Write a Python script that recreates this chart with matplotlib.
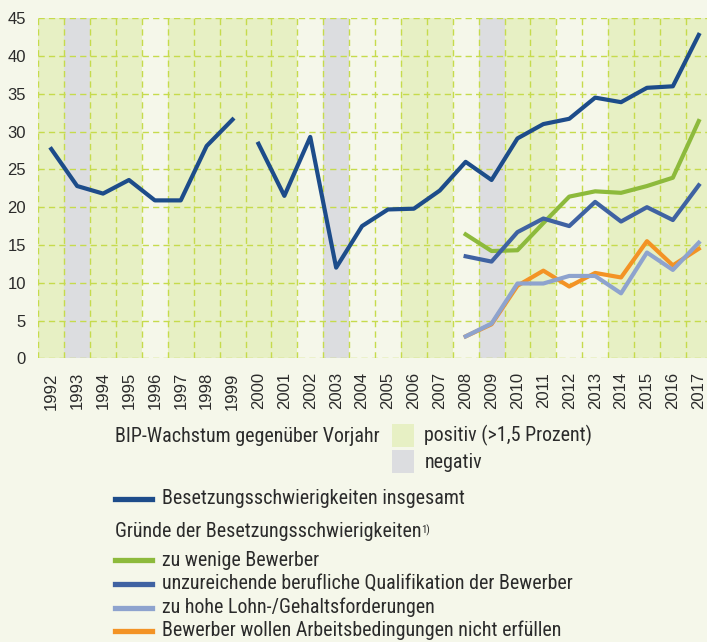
import numpy as np
import matplotlib
matplotlib.use("Agg")
import matplotlib.pyplot as plt
import matplotlib.patches as mpatches
from matplotlib.lines import Line2D
from matplotlib import font_manager

# ── Daten ─────────────────────────────────────────────────────────────────
YEARS = list(range(1992, 2018))
# BIP-Wachstum: g = positiv (>1,5 %), n = negativ, - = dazwischen
BIP = ["g", "n", "g", "g", "-", "g", "g", "g", "g", "g", "-", "n", "-",
       "-", "g", "g", "-", "n", "g", "g", "-", "-", "g", "g", "g", "g"]

# Besetzungsschwierigkeiten insgesamt (Lücke zwischen 1999 und 2000)
INS_1 = [27.7, 22.8, 21.8, 23.6, 20.9, 20.9, 28.1, 31.6]            # 1992–1999
INS_2 = [28.4, 21.5, 29.3, 12.0, 17.5, 19.7, 19.8, 22.2, 26.0, 23.6,
         29.1, 31.0, 31.7, 34.5, 33.9, 35.8, 36.0, 42.8]              # 2000–2017

YEARS_G = list(range(2008, 2018))
WENIG_BEW   = [16.4, 14.2, 14.3, 17.9, 21.4, 22.1, 21.9, 22.8, 23.9, 31.4]
QUALIF      = [13.5, 12.8, 16.7, 18.5, 17.5, 20.7, 18.1, 20.0, 18.3, 22.9]
LOHN        = [2.9, 4.6, 9.9, 9.9, 10.9, 10.9, 8.6, 14.0, 11.7, 15.3]
ARBEITSBED  = [2.9, 4.5, 9.6, 11.6, 9.5, 11.3, 10.7, 15.5, 12.3, 14.5]

# ── Farben ────────────────────────────────────────────────────────────────
BG      = "#F5F7EA"
C_POS   = "#E7F0C4"
C_NEG   = "#DCDDE0"
C_GRID  = "#C6DB4C"
C_TXT   = "#2B2B2B"
C_INS   = "#1D4C8A"
C_WEN   = "#8DBA3C"
C_QUA   = "#3F62A2"
C_LOH   = "#8EA3CE"
C_ARB   = "#F39325"

# schmale Schrift, falls vorhanden
installed = {f.name for f in font_manager.fontManager.ttflist}
cands = ["Roboto Condensed", "Liberation Sans Narrow", "Open Sans Condensed",
         "DejaVu Sans Condensed", "Noto Sans Condensed", "Roboto"]
LEG_FONT = [c for c in cands if c in installed][:1] + ["DejaVu Sans"]
TICK_FONT = ["Liberation Sans", "DejaVu Sans"]

W, H = 707, 642
fig = plt.figure(figsize=(W / 100, H / 100), dpi=100, facecolor=BG)
ax_l, ax_r = 38.3 / W, 1.0
ax_b, ax_t = 1 - 358.3 / H, 1 - 18.3 / H
ax = fig.add_axes([ax_l, ax_b, ax_r - ax_l, ax_t - ax_b])
ax.set_facecolor(BG)

x0 = YEARS[0] - 0.5
col_px = 25.9
ax.set_xlim(x0, x0 + (W - 38.3) / col_px)
ax.set_ylim(0, 45)

# Hintergrund-Spalten
for yr, b in zip(YEARS, BIP):
    if b == "g":
        ax.axvspan(yr - 0.5, yr + 0.5, color=C_POS, lw=0, zorder=0)
    elif b == "n":
        ax.axvspan(yr - 0.5, yr + 0.5, color=C_NEG, lw=0, zorder=0)

# Gitter
for yv in range(0, 50, 5):
    ax.axhline(yv, color=C_GRID, lw=1.0, ls=(0, (4.5, 3)), zorder=1)
for yr in YEARS:
    ax.axvline(yr - 0.5, color=C_GRID, lw=1.0, ls=(0, (4.5, 3)), zorder=1)

# Linien
LW = 3.0
ax.plot(YEARS[:8], INS_1, color=C_INS, lw=LW, zorder=5)
ax.plot(YEARS[8:], INS_2, color=C_INS, lw=LW, zorder=5)
ax.plot(YEARS_G, WENIG_BEW, color=C_WEN, lw=LW, zorder=4)
ax.plot(YEARS_G, QUALIF, color=C_QUA, lw=LW, zorder=4)
ax.plot(YEARS_G, ARBEITSBED, color=C_ARB, lw=LW, zorder=3)
ax.plot(YEARS_G, LOHN, color=C_LOH, lw=LW, zorder=3.5)

# Achsen
for s in ax.spines.values():
    s.set_visible(False)
ax.set_yticks(range(0, 50, 5))
ax.set_xticks(YEARS)
ax.set_xticklabels([str(y) for y in YEARS], rotation=90)
ax.tick_params(axis="both", length=0, labelsize=12, labelcolor=C_TXT)
ax.tick_params(axis="y", pad=9)
ax.tick_params(axis="x", pad=10)
for lab in ax.get_xticklabels() + ax.get_yticklabels():
    lab.set_family(TICK_FONT)

# ── Legende (Figurenkoordinaten in Pixeln) ────────────────────────────────
def fx(px):
    return px / W

def fy(py):
    return 1 - py / H

# Schriftgröße so wählen, dass die längste Zeile ca. 398 px breit ist
renderer = fig.canvas.get_renderer()
probe = fig.text(0, 0, "Bewerber wollen Arbeitsbedingungen nicht erfüllen",
                 fontsize=13, family=LEG_FONT)
wpx = probe.get_window_extent(renderer).width
probe.remove()
FS = min(15.0, 13 * 398 / wpx)

tkw = dict(fontsize=FS, color=C_TXT, family=LEG_FONT, va="center", ha="left")

fig.text(fx(115), fy(437), "BIP-Wachstum gegenüber Vorjahr", **tkw)
for y_top, col, lab in [(423.5, C_POS, "positiv (>1,5 Prozent)"),
                        (450.0, C_NEG, "negativ")]:
    fig.patches.append(mpatches.Rectangle((fx(392), fy(y_top + 23)), 22 / W, 23 / H,
                                          transform=fig.transFigure,
                                          facecolor=col, edgecolor="none"))
    fig.text(fx(424.5), fy(y_top + 12), lab, **tkw)

def leg_line(py, col, lab):
    fig.add_artist(Line2D([fx(115), fx(152)], [fy(py), fy(py)],
                          transform=fig.transFigure, color=col, lw=3.8))
    fig.text(fx(162), fy(py), lab, **tkw)

leg_line(498.5, C_INS, "Besetzungsschwierigkeiten insgesamt")
t = fig.text(fx(115), fy(531.5), "Gründe der Besetzungsschwierigkeiten", **tkw)
ax.annotate("1)", xy=(1, 1), xycoords=t, xytext=(-0.5, -2), textcoords="offset points",
            fontsize=FS * 0.55, color=C_TXT, family=LEG_FONT, ha="left", va="top")
leg_line(560.0, C_WEN, "zu wenige Bewerber")
leg_line(583.5, C_QUA, "unzureichende berufliche Qualifikation der Bewerber")
leg_line(607.5, C_LOH, "zu hohe Lohn-/Gehaltsforderungen")
leg_line(630.5, C_ARB, "Bewerber wollen Arbeitsbedingungen nicht erfüllen")

fig.savefig("out.png", dpi=100, facecolor=BG)
